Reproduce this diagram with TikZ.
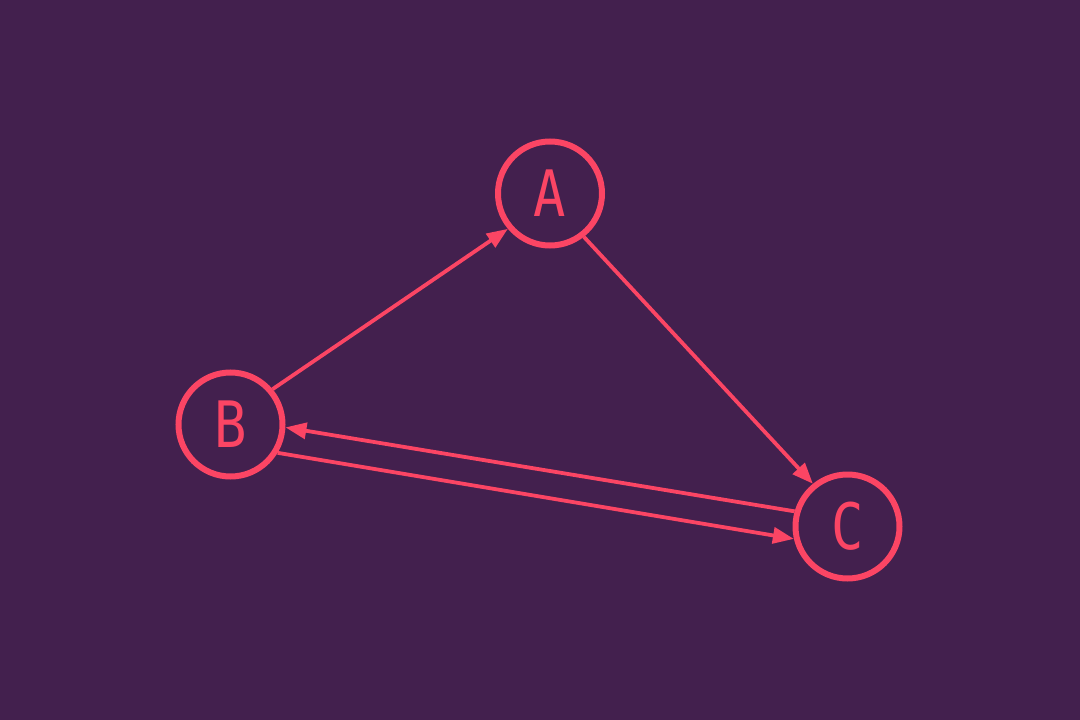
\documentclass[tikz,border=0pt]{standalone}
\usepackage{fontspec}
\newfontfamily\labelfont{DejaVu Sans Mono}
\usetikzlibrary{arrows.meta}
\definecolor{bgplum}{RGB}{67,32,78}
\definecolor{rosered}{RGB}{251,69,100}
\newcommand{\vlabel}[1]{\scalebox{0.84}[1]{#1}}
\begin{document}
\begin{tikzpicture}[x=1pt,y=-1pt,
  vertex/.style={circle,draw=rosered,line width=6pt,minimum size=104pt,inner sep=0pt,
    text=rosered,font=\labelfont\fontsize{64}{64}\selectfont},
  link/.style={draw=rosered,line width=3.8pt,-{Triangle[length=21pt,width=16pt]}}]
  % canvas
  \fill[bgplum] (0,0) rectangle (1080,720);
  \useasboundingbox (0,0) rectangle (1080,720);
  % vertices
  \node[vertex] (A) at (550,193.5) {\vlabel{A}};
  \node[vertex] (B) at (230.5,424.5) {\vlabel{B}};
  \node[vertex] (C) at (847.5,526.5) {\vlabel{C}};
  % edges
  \draw[link] (B.40.7) -- (A.220.1);
  \draw[link] (A.-52.7) -- (C.129.5);
  \draw[link] (B.-31.8) -- (C.193);
  \draw[link] (C.164.3) -- (B.-3.1);
\end{tikzpicture}
\end{document}
